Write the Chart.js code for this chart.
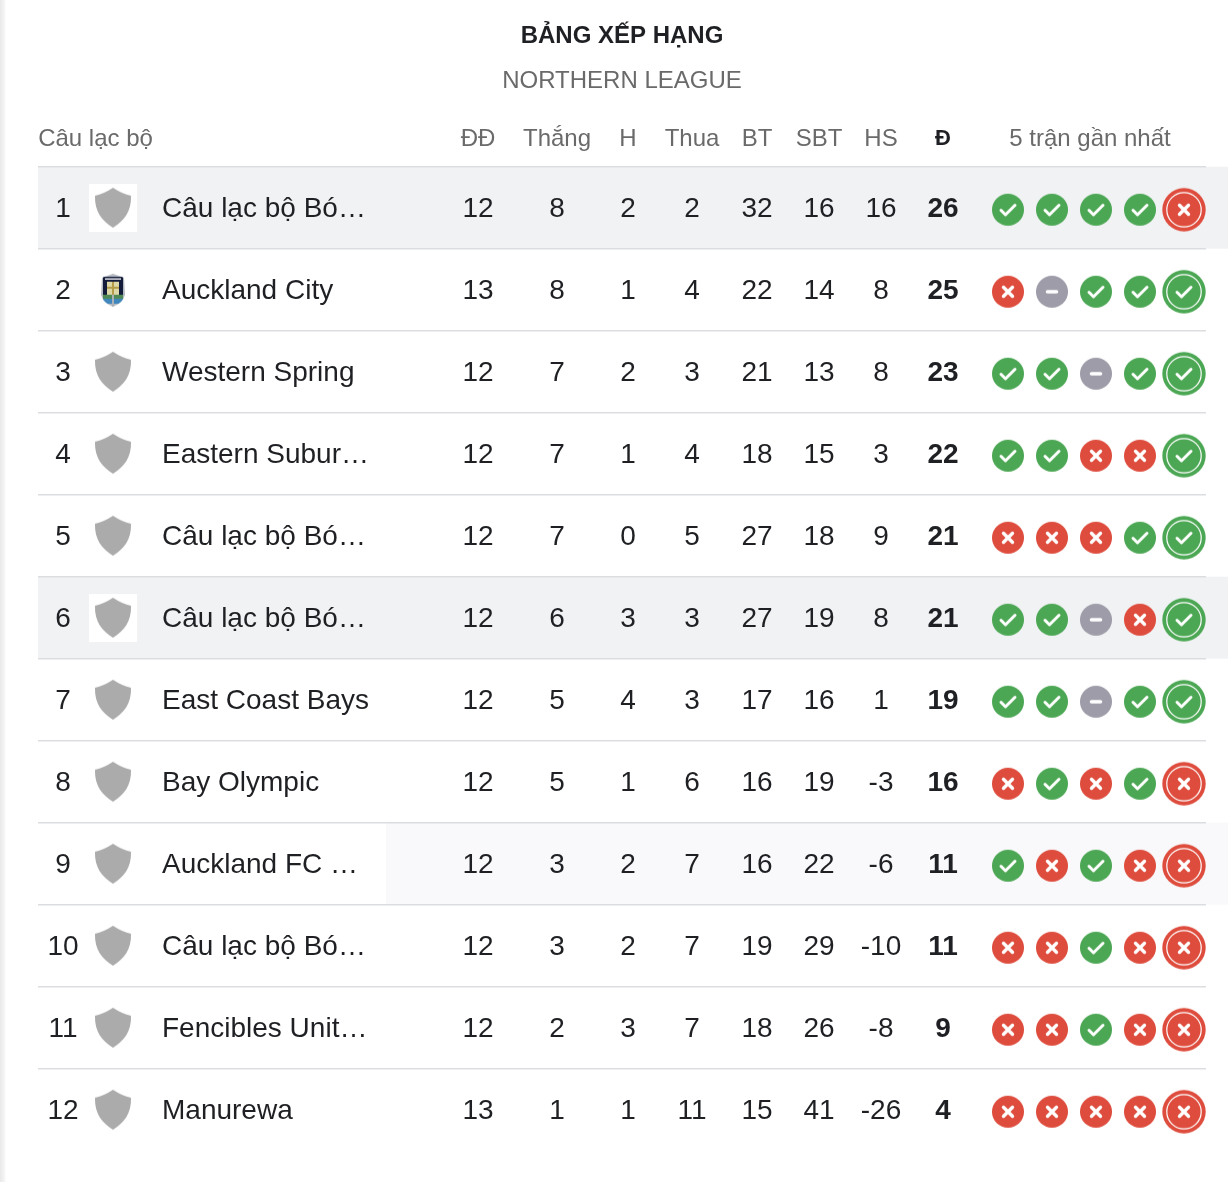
<!DOCTYPE html>
<html lang="vi">
<head>
<meta charset="utf-8">
<title>Bảng xếp hạng</title>
<script src="https://cdn.jsdelivr.net/npm/chart.js@4"></script>
<style>
html,body{margin:0;padding:0;width:1228px;height:1182px;overflow:hidden;background:#fff}
body{background:linear-gradient(to right,#e9e9e9 0,#f3f3f3 4px,#f8f8f8 5px,#fff 6px)}
#wrap{position:absolute;left:0;top:0;width:1228px;height:1182px}
canvas{display:block}
</style>
</head>
<body>
<div id="wrap"><canvas id="c" width="1228" height="1182"></canvas></div>
<script>
const titleText = 'BẢNG XẾP HẠNG';
const subtitleText = 'NORTHERN LEAGUE';
const headers = ['Câu lạc bộ','ĐĐ','Thắng','H','Thua','BT','SBT','HS','Đ','5 trận gần nhất'];
const clubs = ['Câu lạc bộ Bó…','Auckland City','Western Spring','Eastern Subur…','Câu lạc bộ Bó…','Câu lạc bộ Bó…','East Coast Bays','Bay Olympic','Auckland FC …','Câu lạc bộ Bó…','Fencibles Unit…','Manurewa'];
const ranks = [1,2,3,4,5,6,7,8,9,10,11,12];
const played = [12,13,12,12,12,12,12,12,12,12,12,13];
const won = [8,8,7,7,7,6,5,5,3,3,2,1];
const drawn = [2,1,2,1,0,3,4,1,2,2,3,1];
const lost = [2,4,3,4,5,3,3,6,7,7,7,11];
const goalsFor = [32,22,21,18,27,27,17,16,16,19,18,15];
const goalsAgainst = [16,14,13,15,18,19,16,19,22,29,26,41];
const goalDiff = [16,8,8,3,9,8,1,-3,-6,-10,-8,-26];
const points = [26,25,23,22,21,21,19,16,11,11,9,4];
const form = ['WWWWL','LDWWW','WWDWW','WWLLW','LLLWW','WWDLW','WWDWW','LWLWL','WLWLL','LLWLL','LLWLL','LLLLL'];

// layout of the table (columns on the x scale, which runs in page pixels)
const xRange = [38,1206];
const headerX = [95.5,478,557,628,692,757,819,881,943,1090];
const rankX = 63, logoX = 113, formX = [1008,1052,1096,1140,1184];
const statColumns = [
  {name:'ĐĐ',values:played,x:478},{name:'Thắng',values:won,x:557},{name:'H',values:drawn,x:628},
  {name:'Thua',values:lost,x:692},{name:'BT',values:goalsFor,x:757},{name:'SBT',values:goalsAgainst,x:819},
  {name:'HS',values:goalDiff,x:881},{name:'Đ',values:points,x:943,bold:true}
];
const rowShades = [{row:0,from:38,color:'#f1f2f4'},{row:5,from:38,color:'#f1f2f4'},{row:8,from:386,color:'#f9f9fb'}];
const whiteLogoRows = [0,5];
const FONT = '"Liberation Sans", Arial, sans-serif';
const INK = '#1f2023', MUTED = '#6a6a6a';
const RESULT = {W:'#4ca754',L:'#de4c3d',D:'#9d9ca8'};
const TEXT_DROP = 2;

function makeCanvas(w,h){const c=document.createElement('canvas');c.width=w;c.height=h;return c;}

function glyph(ctx,type,cx,cy){
  ctx.strokeStyle='#fff';ctx.lineCap='round';ctx.lineJoin='round';
  ctx.beginPath();
  if(type==='W'){ctx.lineWidth=3;ctx.moveTo(cx-7,cy+.5);ctx.lineTo(cx-2.5,cy+5);ctx.lineTo(cx+7,cy-4.5);}
  else if(type==='L'){ctx.lineWidth=3.4;ctx.moveTo(cx-4.5,cy-4.5);ctx.lineTo(cx+4.5,cy+4.5);ctx.moveTo(cx+4.5,cy-4.5);ctx.lineTo(cx-4.5,cy+4.5);}
  else{ctx.lineWidth=3.6;ctx.moveTo(cx-4.5,cy);ctx.lineTo(cx+4.5,cy);}
  ctx.stroke();
}
function resultIcon(type,isLast){
  const c=makeCanvas(48,52),x=c.getContext('2d'),cx=24,cy=28;
  x.fillStyle=RESULT[type];x.beginPath();x.arc(cx,cy,isLast?21.7:16,0,Math.PI*2);x.fill();
  if(isLast){x.strokeStyle='#fff';x.lineWidth=1.2;x.beginPath();x.arc(cx,cy,17.2,0,Math.PI*2);x.stroke();}
  glyph(x,type,cx,cy);
  return c;
}
const iconCache={};
function icon(type,isLast){const k=type+(isLast?'1':'0');return iconCache[k]||(iconCache[k]=resultIcon(type,isLast));}

function shieldPath(x,ox,oy){
  x.beginPath();x.moveTo(ox+18,oy);x.quadraticCurveTo(ox+9,oy+6,ox,oy+8);
  x.bezierCurveTo(ox-.5,oy+24,ox+7,oy+33,ox+18,oy+40);
  x.bezierCurveTo(ox+29,oy+33,ox+36.5,oy+24,ox+36,oy+8);
  x.quadraticCurveTo(ox+27,oy+6,ox+18,oy);x.closePath();
}
function greyLogo(white){
  const c=makeCanvas(48,48),x=c.getContext('2d');
  if(white){x.fillStyle='#fff';x.fillRect(0,0,48,48);}
  x.fillStyle='#ababab';shieldPath(x,6,4);x.fill();
  return c;
}
function crestLogo(){
  const c=makeCanvas(48,48),x=c.getContext('2d'),ox=12,oy=8;
  const outline=()=>{x.beginPath();x.moveTo(ox+12,oy);x.lineTo(ox+23,oy+4);x.lineTo(ox+24,oy+21);x.quadraticCurveTo(ox+22,oy+29,ox+12,oy+33);x.quadraticCurveTo(ox+2,oy+29,ox,oy+21);x.lineTo(ox+1,oy+4);x.closePath();};
  x.fillStyle='#b4bac0';outline();x.fill();
  x.save();outline();x.clip();
  x.fillStyle='#141c3c';x.fillRect(ox+2,oy+3,20,19);
  x.fillStyle='#4f8a56';x.fillRect(ox+2,oy+21,20,4);
  x.fillStyle='#3f86bd';x.fillRect(ox+2,oy+25,20,5);
  x.fillStyle='#ded8a6';x.fillRect(ox+6,oy+8,12,13);
  x.fillStyle='#b39c4a';x.fillRect(ox+11,oy+8,2,13);x.fillRect(ox+6,oy+13,12,2);
  x.fillStyle='#e4e6ea';x.fillRect(ox+4,oy+4.5,16,1.5);
  x.fillStyle='#aab0b8';x.fillRect(ox+11,oy+21,2,12);
  x.restore();
  return c;
}
const logoWhite=greyLogo(true), logoGrey=greyLogo(false), logoCrest=crestLogo();

const textDataset=(label,values,x,opts={})=>({
  label,textLabels:values,bold:!!opts.bold,pointRadius:0,pointHoverRadius:0,
  data:values.map((v,i)=>({x,y:clubs[i]}))
});

const datasets=[
  textDataset('Hạng',ranks,rankX),
  ...statColumns.map(c=>textDataset(c.name,c.values,c.x,c)),
  {label:'Logo',data:clubs.map(n=>({x:logoX,y:n})),
   pointStyle:ctx=>ctx.dataIndex===1?logoCrest:(whiteLogoRows.includes(ctx.dataIndex)?logoWhite:logoGrey)},
  ...formX.map((x,s)=>({label:'Trận '+(s+1),
    data:form.map((f,i)=>({x,y:clubs[i]})),
    pointStyle:ctx=>icon(form[ctx.dataIndex][s],s===4)}))
];

const tablePlugin={
  id:'table',
  beforeDraw(chart){
    const {ctx,scales:{y}}=chart;
    const h=y.getPixelForValue(1)-y.getPixelForValue(0);
    rowShades.forEach(s=>{
      ctx.fillStyle=s.color;
      ctx.fillRect(s.from,y.getPixelForValue(s.row)-h/2,chart.width-s.from,h);
    });
  },
  afterDatasetsDraw(chart){
    const {ctx}=chart;
    ctx.save();ctx.textAlign='center';ctx.textBaseline='middle';ctx.fillStyle=INK;
    chart.data.datasets.forEach((d,di)=>{
      if(!d.textLabels)return;
      ctx.font=(d.bold?'bold ':'')+'28px '+FONT;
      chart.getDatasetMeta(di).data.forEach((p,i)=>ctx.fillText(String(d.textLabels[i]),p.x,p.y+TEXT_DROP));
    });
    ctx.restore();
  }
};

Chart.defaults.font.family=FONT;
new Chart(document.getElementById('c'),{
  type:'scatter',
  data:{datasets},
  plugins:[tablePlugin],
  options:{
    responsive:false,animation:false,devicePixelRatio:1,
    events:[],
    layout:{autoPadding:false,padding:{left:38,right:22,top:0,bottom:31.3}},
    plugins:{
      legend:{display:false},tooltip:{enabled:false},
      title:{display:true,text:titleText,color:INK,font:{size:24,weight:'bold',family:FONT,lineHeight:1.2},padding:{top:21.6,bottom:16.4}},
      subtitle:{display:true,text:subtitleText,color:MUTED,font:{size:24,weight:'normal',family:FONT,lineHeight:1.2},padding:{top:0,bottom:0}}
    },
    elements:{point:{radius:24,hoverRadius:24,borderWidth:0}},
    scales:{
      x:{type:'linear',position:'top',min:xRange[0],max:xRange[1],
        afterBuildTicks:s=>{s.ticks=headerX.map(v=>({value:v}));},
        afterFit:s=>{s.height=71.1;s.paddingLeft=0;s.paddingRight=0;},
        grid:{display:false},border:{display:false},
        ticks:{autoSkip:false,maxRotation:0,minRotation:0,padding:5,
          callback:(v,i)=>headers[i],
          color:ctx=>ctx.index===8?INK:MUTED,
          font:ctx=>ctx.index===8?{size:22,weight:'bold',family:FONT,lineHeight:28.8/22}:{size:24,weight:'normal',family:FONT,lineHeight:1.2}}
      },
      y:{type:'category',labels:clubs,position:'left',offset:true,
        afterFit:s=>{s.width=0;s.paddingTop=0;s.paddingBottom=0;},
        border:{display:false},
        grid:{offset:true,drawTicks:false,lineWidth:1.6,color:ctx=>ctx.index===undefined&&ctx.type!=='tick'?'rgba(0,0,0,0)':'#dcdde0'},
        ticks:{autoSkip:false,mirror:true,padding:124,labelOffset:TEXT_DROP,color:INK,font:{size:28,family:FONT}}
      }
    }
  }
});
</script>
</body>
</html>
